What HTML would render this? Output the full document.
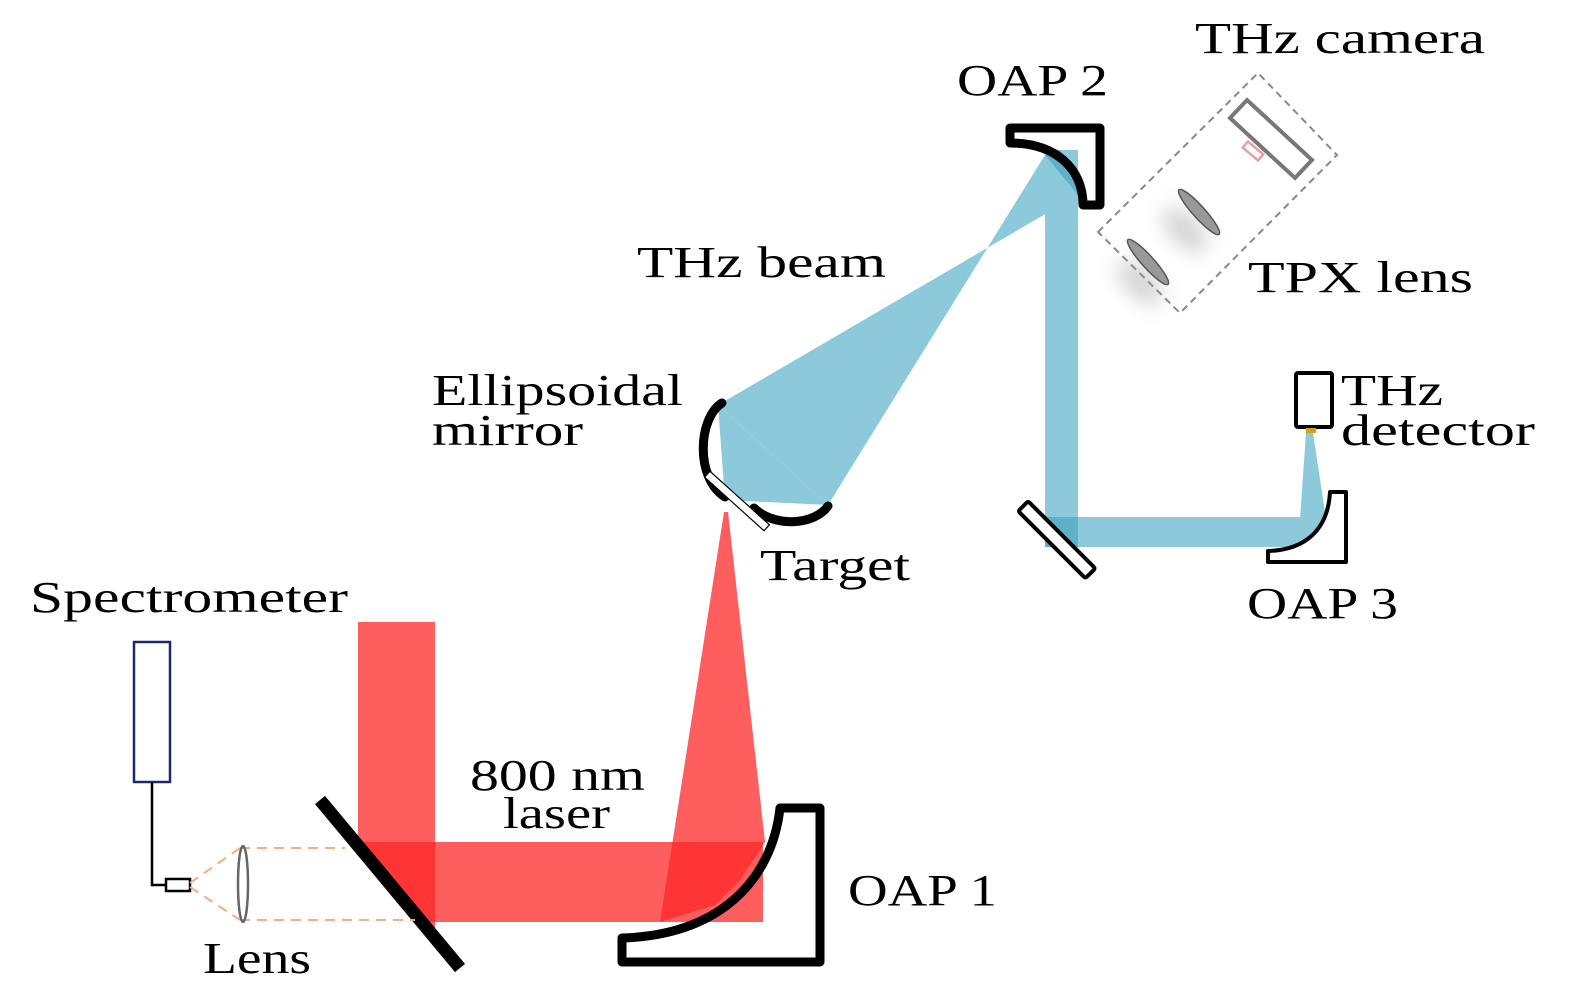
<!DOCTYPE html>
<html><head><meta charset="utf-8"><style>
html,body{margin:0;padding:0;background:#fff;}
svg{display:block;}
text{font-family:"Liberation Serif",serif;font-size:44px;fill:#000;}
</style></head><body>
<svg width="1575" height="1004" viewBox="0 0 1575 1004" xmlns="http://www.w3.org/2000/svg">
<defs>
<filter id="bl" x="-50%" y="-50%" width="200%" height="200%"><feGaussianBlur stdDeviation="10"/></filter>
</defs>
<!-- red beams -->
<g fill="#ff2828" fill-opacity="0.75">
<polygon points="358,622 435,622 435,938 358,846"/>
<polygon points="355,842 763,842 763,922 422,922"/>
<polygon points="660,922 724,512 728,512 765,842 740,880 715,905"/>
</g>
<!-- blue beams -->
<g fill="#8ccadb">
<polygon points="718,405 828,505 1045,155 1078,195"/>
<polygon points="718,405 725,500 828,505"/>
<rect x="1045" y="150" width="33" height="397"/>
<rect x="1045" y="517" width="255" height="30"/>
<polygon points="1298,547 1306,433 1313,433 1325,512 1315,535"/>
</g>
<rect x="1045" y="517" width="33" height="30" fill="#5fb0c9"/>
<polygon points="1045,155 1078,195 1078,180 1060,150" fill="#5fb0c9"/>
<!-- diagonal mirror -->
<line x1="320" y1="800" x2="460" y2="968" stroke="#000" stroke-width="13"/>
<!-- OAP1 -->
<path d="M780,808 L820,808 L820,962 L622,962 L622,938 C720,935 772,880 780,808 Z" fill="none" stroke="#000" stroke-width="9" stroke-linejoin="round"/>
<!-- spectrometer -->
<rect x="134" y="642" width="36" height="140" fill="#fff" stroke="#1a2a6c" stroke-width="2.5"/>
<polyline points="152,782 152,885 166,885" fill="none" stroke="#000" stroke-width="2.5"/>
<rect x="166" y="879" width="24" height="12" fill="#fff" stroke="#000" stroke-width="2.5"/>
<g stroke="#f0b080" stroke-width="2" stroke-dasharray="10,7" fill="none">
<line x1="190" y1="883" x2="240" y2="848"/>
<line x1="190" y1="887" x2="240" y2="920"/>
<line x1="240" y1="848" x2="345" y2="848"/>
<line x1="240" y1="920" x2="415" y2="920"/>
</g>
<ellipse cx="243" cy="884" rx="5" ry="38" fill="none" stroke="#666" stroke-width="2.5"/>
<!-- ellipsoidal mirror -->
<path d="M722,403 C698,418 695,478 725,497" fill="none" stroke="#000" stroke-width="9" stroke-linecap="round"/>
<path d="M754,508 C775,528 815,525 828,506" fill="none" stroke="#000" stroke-width="9" stroke-linecap="round"/>
<rect x="697" y="497" width="80" height="8" fill="#fff" stroke="#000" stroke-width="1.2" transform="rotate(42 737 501)" />
<!-- OAP2 -->
<path d="M1010,143 L1010,128 L1100,128 L1100,205 L1083,205 C1083,168 1055,143 1010,143 Z" fill="none" stroke="#000" stroke-width="9" stroke-linejoin="round"/>
<!-- plane mirror -->
<rect x="1010" y="531" width="95" height="14" fill="#fff" stroke="#000" stroke-width="4" rx="2" transform="rotate(45 1055 538)"/>
<!-- OAP3 -->
<path d="M1330,492 L1346,492 L1346,562 L1268,562 L1268,551 C1305,550 1328,530 1330,492 Z" fill="#fff" stroke="#000" stroke-width="4" stroke-linejoin="round"/>
<!-- detector -->
<rect x="1296" y="373" width="36" height="54" rx="2" fill="#fff" stroke="#000" stroke-width="4"/>
<rect x="1306" y="428" width="10" height="5" fill="#d4a017"/>
<!-- camera -->
<polygon points="1098,232 1258,73 1337,155 1180,313" fill="none" stroke="#888" stroke-width="2" stroke-dasharray="7,5"/>
<polygon points="1230,118 1247,100 1312,160 1295,178" fill="none" stroke="#777" stroke-width="4"/>
<rect x="1243" y="147" width="20" height="8" fill="none" stroke="#e4a0a0" stroke-width="2.5" transform="rotate(40 1253 151)"/>
<ellipse cx="1185" cy="230" rx="28" ry="14" fill="#999" opacity="0.45" filter="url(#bl)" transform="rotate(45 1185 230)"/>
<ellipse cx="1140" cy="282" rx="28" ry="14" fill="#999" opacity="0.45" filter="url(#bl)" transform="rotate(45 1140 282)"/>
<ellipse cx="1199" cy="212" rx="30" ry="6" fill="#999" stroke="#555" stroke-width="1.5" transform="rotate(48 1199 212)"/>
<ellipse cx="1148" cy="262" rx="30" ry="6" fill="#999" stroke="#555" stroke-width="1.5" transform="rotate(48 1148 262)"/>
<!-- text -->
<text x="30" y="612" textLength="318" lengthAdjust="spacingAndGlyphs">Spectrometer</text>
<text x="1195" y="53" textLength="290" lengthAdjust="spacingAndGlyphs">THz camera</text>
<text x="957" y="95" textLength="151" lengthAdjust="spacingAndGlyphs">OAP 2</text>
<text x="637" y="277" textLength="249" lengthAdjust="spacingAndGlyphs">THz beam</text>
<text x="1248" y="292" textLength="225" lengthAdjust="spacingAndGlyphs">TPX lens</text>
<text x="432" y="405" textLength="251" lengthAdjust="spacingAndGlyphs">Ellipsoidal</text>
<text x="432" y="445" textLength="151" lengthAdjust="spacingAndGlyphs">mirror</text>
<text x="1341" y="405" textLength="102" lengthAdjust="spacingAndGlyphs">THz</text>
<text x="1341" y="445" textLength="194" lengthAdjust="spacingAndGlyphs">detector</text>
<text x="760" y="580" textLength="150" lengthAdjust="spacingAndGlyphs">Target</text>
<text x="1247" y="618" textLength="151" lengthAdjust="spacingAndGlyphs">OAP 3</text>
<text x="470" y="790" textLength="175" lengthAdjust="spacingAndGlyphs">800 nm</text>
<text x="503" y="828" textLength="107" lengthAdjust="spacingAndGlyphs">laser</text>
<text x="848" y="905" textLength="149" lengthAdjust="spacingAndGlyphs">OAP 1</text>
<text x="203" y="973" textLength="108" lengthAdjust="spacingAndGlyphs">Lens</text>
</svg>
</body></html>
